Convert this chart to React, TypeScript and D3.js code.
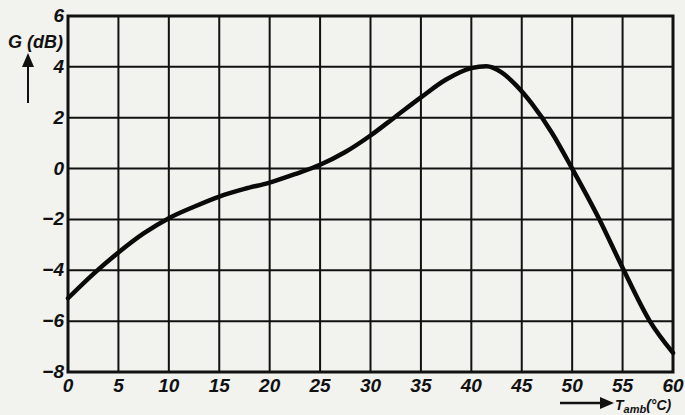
import React, { useEffect, useRef } from 'react';
import * as d3 from 'd3';

// temperature (°C) and gain (dB)
const tempValues = [0, 2.5, 5, 7.5, 10, 12.5, 15, 17.5, 20, 22.5, 25, 27.5, 30, 32.5, 35, 37.5, 40, 41.5, 43, 44.5, 46, 48, 50, 52.7, 55, 57.7, 60];
const gainValues = [-5.1, -4.15, -3.3, -2.55, -1.95, -1.5, -1.1, -0.8, -0.55, -0.22, 0.15, 0.65, 1.3, 2.05, 2.8, 3.5, 3.95, 4.02, 3.78, 3.25, 2.55, 1.4, 0.0, -2.0, -3.9, -6.0, -7.25];
const xTicks = [0, 5, 10, 15, 20, 25, 30, 35, 40, 45, 50, 55, 60];
const yTicks = [6, 4, 2, 0, -2, -4, -6, -8];

const W = 685;
const H = 415;
const margin = { top: 16, right: 12, bottom: 43, left: 68 };

export default function App() {
  const ref = useRef<SVGSVGElement | null>(null);

  useEffect(() => {
    const svg = d3.select(ref.current);
    svg.selectAll('*').remove();

    const x = d3.scaleLinear().domain([0, 60]).range([margin.left, W - margin.right]);
    const y = d3.scaleLinear().domain([-8, 6]).range([H - margin.bottom, margin.top]);

    svg.append('rect').attr('width', W).attr('height', H).attr('fill', '#f2f2ef');

    const font = '"Liberation Sans", Arial, sans-serif';

    // grid
    const grid = svg.append('g').attr('stroke', '#111').attr('stroke-width', 2);
    grid.selectAll('line.v')
      .data(xTicks)
      .enter()
      .append('line')
      .attr('x1', (d) => x(d))
      .attr('x2', (d) => x(d))
      .attr('y1', y(6))
      .attr('y2', y(-8));
    grid.selectAll('line.h')
      .data(yTicks)
      .enter()
      .append('line')
      .attr('x1', x(0))
      .attr('x2', x(60))
      .attr('y1', (d) => y(d))
      .attr('y2', (d) => y(d));

    // frame
    svg.append('rect')
      .attr('x', x(0))
      .attr('y', y(6))
      .attr('width', x(60) - x(0))
      .attr('height', y(-8) - y(6))
      .attr('fill', 'none')
      .attr('stroke', '#111')
      .attr('stroke-width', 3);

    // curve
    const pts: [number, number][] = tempValues.map((t, i) => [t, gainValues[i]]);
    const line = d3.line<[number, number]>()
      .x((d) => x(d[0]))
      .y((d) => y(d[1]))
      .curve(d3.curveMonotoneX);
    svg.append('path')
      .datum(pts)
      .attr('d', line)
      .attr('fill', 'none')
      .attr('stroke', '#0a0a0a')
      .attr('stroke-width', 4.5)
      .attr('stroke-linecap', 'round');

    // y tick labels
    svg.append('g')
      .selectAll('text')
      .data(yTicks)
      .enter()
      .append('text')
      .attr('x', x(0) - 4)
      .attr('y', (d) => y(d) + 6)
      .attr('text-anchor', 'end')
      .attr('font-family', font)
      .attr('font-weight', 'bold')
      .attr('font-style', 'italic')
      .attr('font-size', 19)
      .attr('fill', '#111')
      .text((d) => (d < 0 ? '\u2212' + Math.abs(d) : String(d)));

    // x tick labels
    svg.append('g')
      .selectAll('text')
      .data(xTicks)
      .enter()
      .append('text')
      .attr('x', (d) => x(d))
      .attr('y', y(-8) + 20)
      .attr('text-anchor', 'middle')
      .attr('font-family', font)
      .attr('font-weight', 'bold')
      .attr('font-style', 'italic')
      .attr('font-size', 19)
      .attr('fill', '#111')
      .text((d) => String(d));

    // y axis title and arrow
    svg.append('text')
      .attr('x', 8)
      .attr('y', 48)
      .attr('font-family', font)
      .attr('font-weight', 'bold')
      .attr('font-style', 'italic')
      .attr('font-size', 18)
      .attr('fill', '#111')
      .text('G (dB)');
    svg.append('line')
      .attr('x1', 28).attr('x2', 28)
      .attr('y1', 103).attr('y2', 64)
      .attr('stroke', '#111').attr('stroke-width', 2);
    svg.append('path')
      .attr('d', 'M28,53 L22,67 L34,67 Z')
      .attr('fill', '#111');

    // x axis title and arrow
    svg.append('line')
      .attr('x1', 560).attr('x2', 602)
      .attr('y1', 403).attr('y2', 403)
      .attr('stroke', '#111').attr('stroke-width', 2.5);
    svg.append('path')
      .attr('d', 'M614,403 L600,397 L600,409 Z')
      .attr('fill', '#111');
    const t = svg.append('text')
      .attr('x', 615)
      .attr('y', 410)
      .attr('font-family', font)
      .attr('font-weight', 'bold')
      .attr('font-style', 'italic')
      .attr('font-size', 14)
      .attr('fill', '#111');
    t.append('tspan').text('T');
    t.append('tspan').attr('font-size', 11).attr('dy', 3).text('amb');
    t.append('tspan').attr('dy', -3).text('(°C)');
  }, []);

  return (
    <svg
      ref={ref}
      width={W}
      height={H}
      style={{ position: 'absolute', left: 0, top: 0, display: 'block' }}
    />
  );
}
